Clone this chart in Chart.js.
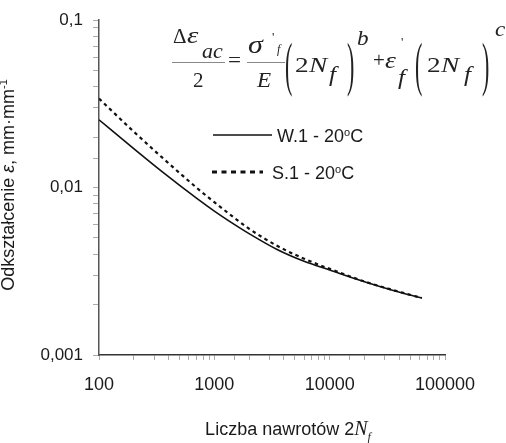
<!DOCTYPE html>
<html>
<head>
<meta charset="utf-8">
<script src="https://cdn.jsdelivr.net/npm/chart.js@4"></script>
<style>
  body { margin: 0; background: #fff; }
  canvas { display: block; }
</style>
</head>
<body>
<canvas id="myChart" width="506" height="443"></canvas>
<script>
// dane (liczba nawrotow 2Nf -> odksztalcenie)
const cykle = [100, 200, 350, 700, 1000, 1500, 2000, 3500, 6000, 10000, 20000, 35000, 63000];
const w1 = [0.0254, 0.0171, 0.0125, 0.00865, 0.00724, 0.00601, 0.00531, 0.00427, 0.00363, 0.00322, 0.00274, 0.00244, 0.00219];
const s1 = [0.034, 0.0216, 0.0152, 0.0100, 0.00818, 0.00658, 0.00568, 0.00449, 0.00376, 0.00327, 0.00275, 0.00245, 0.00219];
const nazwySerii = ['W.1 - 20°C', 'S.1 - 20°C'];

const xTickValues = [100, 1000, 10000, 100000];
const xTickLabels = ['100', '1000', '10000', '100000'];
const yTickValues = [0.001, 0.01, 0.1];
const yTickLabels = ['0,001', '0,01', '0,1'];

const FONT = '"Liberation Sans", Arial, sans-serif';
const SERIF = '"Liberation Serif", "Times New Roman", serif';

function etykieta(v, wartosci, etykiety) {
  for (let i = 0; i < wartosci.length; i++) {
    if (Math.abs(Math.log10(v) - Math.log10(wartosci[i])) < 1e-6) return etykiety[i];
  }
  return '';
}

function punkty(ys) {
  return cykle.map((x, i) => ({x: x, y: ys[i]}));
}

// pisze kawalki tekstu jeden za drugim: [tekst, font, przesuniecie w pionie]
function piszCiag(ctx, czesci, x, y) {
  let cx = x;
  for (const c of czesci) {
    ctx.font = c[1];
    ctx.fillText(c[0], cx, y + (c[2] || 0));
    cx += ctx.measureText(c[0]).width;
  }
  return cx;
}
function szerokosc(ctx, czesci) {
  let w = 0;
  for (const c of czesci) { ctx.font = c[1]; w += ctx.measureText(c[0]).width; }
  return w;
}

// znak wzoru z rozciagnieciem poziomym/pionowym
function znak(ctx, t, font, x, y, sx, sy) {
  ctx.save();
  ctx.translate(x, y);
  ctx.scale(sx || 1, sy || 1);
  ctx.font = font;
  ctx.fillText(t, 0, 0);
  ctx.restore();
}

const opisy = {
  id: 'opisy',
  beforeDraw(chart) {
    const ctx = chart.ctx;
    ctx.save();
    ctx.fillStyle = '#fff';
    ctx.fillRect(0, 0, chart.width, chart.height);
    ctx.restore();
  },
  afterDraw(chart) {
    const ctx = chart.ctx;
    ctx.save();
    ctx.fillStyle = '#1a1a1a';
    ctx.textBaseline = 'alphabetic';
    ctx.textAlign = 'left';

    // tytul osi Y
    const yt = [
      ['Odkształcenie ', '18px ' + FONT],
      ['ε', 'italic 18px ' + FONT],
      [', mm·mm', '18px ' + FONT],
      ['-1', '11px ' + FONT, -7]
    ];
    ctx.save();
    ctx.translate(14, 185);
    ctx.rotate(-Math.PI / 2);
    piszCiag(ctx, yt, -szerokosc(ctx, yt) / 2, 0);
    ctx.restore();

    // tytul osi X
    const xt = [
      ['Liczba nawrotów 2', '18px ' + FONT],
      ['N', 'italic 20px ' + SERIF],
      ['f', 'italic 12px ' + SERIF, 6]
    ];
    piszCiag(ctx, xt, 288 - szerokosc(ctx, xt) / 2, 435);

    // legenda
    const ds = chart.data.datasets;
    const leg = [{x1: 213, x2: 272, y: 135, tx: 277}, {x1: 212, x2: 263, y: 172, tx: 272}];
    for (let i = 0; i < ds.length; i++) {
      const l = leg[i];
      ctx.beginPath();
      ctx.strokeStyle = '#111';
      ctx.lineWidth = i === 0 ? 1.5 : 3;
      ctx.setLineDash(i === 0 ? [] : [5, 4.5]);
      ctx.moveTo(l.x1, l.y);
      ctx.lineTo(l.x2, l.y);
      ctx.stroke();
      const p = ds[i].label.split('°');
      piszCiag(ctx, [
        [p[0], '18px ' + FONT],
        ['o', '11px ' + FONT, -6],
        [p[1], '18px ' + FONT]
      ], l.tx, l.y + 6.5);
    }
    ctx.setLineDash([]);

    // wzor Mansona-Coffina
    const it = 'italic 21px ' + SERIF;
    const rm = '21px ' + SERIF;
    ctx.fillStyle = '#222';
    ctx.strokeStyle = '#888';
    ctx.lineWidth = 1;
    znak(ctx, 'Δ', rm, 173, 43);
    znak(ctx, 'ε', 'italic 24px ' + SERIF, 187, 43, 1.2);
    znak(ctx, 'ac', 'italic 22px ' + SERIF, 202, 58);
    ctx.beginPath(); ctx.moveTo(172, 62.5); ctx.lineTo(225, 62.5); ctx.stroke();
    znak(ctx, '2', rm, 193, 87);
    znak(ctx, '=', rm, 228, 67, 1.1);
    znak(ctx, 'σ', 'italic 25px ' + SERIF, 248, 53, 1.2);
    znak(ctx, "'", '13px ' + SERIF, 272, 41);
    znak(ctx, 'f', 'italic 12px ' + SERIF, 277, 53);
    ctx.beginPath(); ctx.moveTo(247, 62.5); ctx.lineTo(285, 62.5); ctx.stroke();
    znak(ctx, 'E', it, 257, 87, 1.1);
    znak(ctx, '(', '22px ' + SERIF, 285, 84, 1, 2.7);
    znak(ctx, '2', rm, 295, 72, 1.3);
    znak(ctx, 'N', it, 309, 72, 1.3);
    znak(ctx, 'f', it, 329, 81, 1.2);
    znak(ctx, ')', '22px ' + SERIF, 347, 84, 1, 2.7);
    znak(ctx, 'b', it, 357, 45, 1.1);
    znak(ctx, '+', rm, 373, 67);
    znak(ctx, 'ε', 'italic 23px ' + SERIF, 385, 68, 1.2);
    znak(ctx, "'", '13px ' + SERIF, 401, 46);
    znak(ctx, 'f', it, 398, 84, 1.2);
    znak(ctx, '(', '22px ' + SERIF, 415, 84, 1, 2.7);
    znak(ctx, '2', rm, 427, 72, 1.3);
    znak(ctx, 'N', it, 441, 72, 1.3);
    znak(ctx, 'f', it, 464, 81, 1.2);
    znak(ctx, ')', '22px ' + SERIF, 482, 84, 1, 2.7);
    znak(ctx, 'c', it, 495, 36, 1.1);

    ctx.restore();
  }
};

var ctx = document.getElementById('myChart').getContext('2d');
var chart = new Chart(ctx, {
  type: 'line',
  data: {
    datasets: [
      {
        label: nazwySerii[0],
        data: punkty(w1),
        borderColor: '#111',
        borderWidth: 1.6,
        pointRadius: 0,
        cubicInterpolationMode: 'monotone',
        fill: false
      },
      {
        label: nazwySerii[1],
        data: punkty(s1),
        borderColor: '#111',
        borderWidth: 2.2,
        borderDash: [3.5, 3.5],
        pointRadius: 0,
        cubicInterpolationMode: 'monotone',
        fill: false
      }
    ]
  },
  options: {
    responsive: false,
    animation: false,
    layout: { padding: { left: 0, right: 61, top: 13, bottom: 0 } },
    plugins: {
      legend: { display: false },
      tooltip: { enabled: false }
    },
    scales: {
      x: {
        type: 'logarithmic',
        min: 100,
        max: 100000,
        border: { color: '#333', width: 1.5 },
        grid: { drawOnChartArea: false, drawTicks: true, tickLength: 5, color: '#aaa' },
        ticks: {
          autoSkip: false,
          maxRotation: 0,
          padding: 14,
          color: '#1a1a1a',
          font: { family: FONT, size: 18 },
          callback: v => etykieta(v, xTickValues, xTickLabels)
        },
        afterFit: s => { s.height = 88; }
      },
      y: {
        type: 'logarithmic',
        min: 0.001,
        max: 0.1,
        border: { color: '#555', width: 1.5 },
        grid: { drawOnChartArea: false, drawTicks: true, tickLength: 6, color: '#aaa' },
        ticks: {
          autoSkip: false,
          padding: 10,
          color: '#1a1a1a',
          font: { family: FONT, size: 17 },
          callback: v => etykieta(v, yTickValues, yTickLabels)
        },
        afterFit: s => { s.width = 99; }
      }
    }
  },
  plugins: [opisy]
});
</script>
</body>
</html>
